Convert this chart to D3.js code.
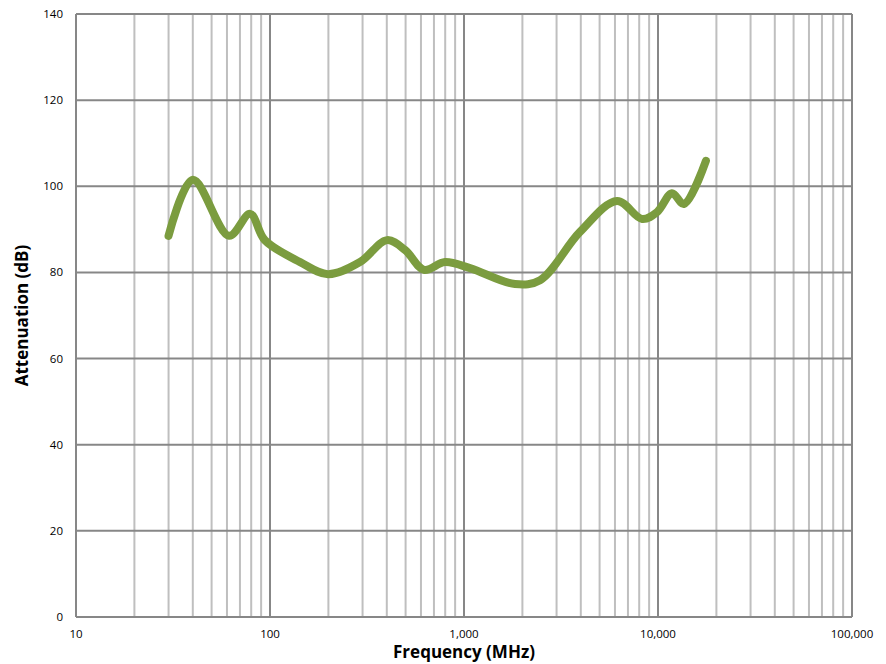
<!DOCTYPE html>
<html>
<head>
<meta charset="utf-8">
<script src="https://cdn.jsdelivr.net/npm/d3@7"></script>
<style>
  body { margin: 0; background: #fff; }
  text { font-family: "Open Sans", "Noto Sans", sans-serif; fill: #000; }
</style>
</head>
<body>
<svg width="886" height="664"></svg>
<script>
// data
const freqs = [30, 40, 61.5, 79, 94, 143, 199, 291, 401, 497, 622, 798, 1074, 1832, 2467, 3960, 6150, 8280, 9890, 11800, 13600, 17660]
const atten = [88.5, 101.5, 88.5, 93.6, 87.5, 82.4, 79.6, 82.4, 87.5, 85.2, 80.6, 82.4, 81, 77.3, 78.2, 89.4, 96.6, 92.4, 94, 98.4, 95.9, 105.9]
const yTicks = [0, 20, 40, 60, 80, 100, 120, 140]
const xDecades = [10, 100, 1000, 10000, 100000]

const margin = {top: 14, right: 34, bottom: 47, left: 76}
const width = 886 - margin.left - margin.right
const height = 664 - margin.top - margin.bottom

const x = d3.scaleLog().domain([10, 100000]).range([0, width])
const y = d3.scaleLinear().domain([0, 140]).range([height, 0])

const svg = d3.select("svg")
const g = svg.append("g").attr("transform", `translate(${margin.left},${margin.top})`)

// minor vertical grid
const minor = []
xDecades.slice(0, -1).forEach(d => { for (let k = 2; k <= 9; k++) minor.push(d * k) })
g.selectAll(".minor")
    .data(minor)
    .enter().append("line")
    .attr("x1", d => x(d)).attr("x2", d => x(d))
    .attr("y1", 0).attr("y2", height)
    .attr("stroke", "#bfbfbf")
    .attr("stroke-width", 2)

// major vertical grid
g.selectAll(".major")
    .data(xDecades)
    .enter().append("line")
    .attr("x1", d => x(d)).attr("x2", d => x(d))
    .attr("y1", 0).attr("y2", height)
    .attr("stroke", "#878787")
    .attr("stroke-width", 2)

// horizontal grid
g.selectAll(".hgrid")
    .data(yTicks)
    .enter().append("line")
    .attr("x1", 0).attr("x2", width)
    .attr("y1", d => y(d)).attr("y2", d => y(d))
    .attr("stroke", "#878787")
    .attr("stroke-width", 2)

// y tick labels
g.selectAll(".ylab")
    .data(yTicks)
    .enter().append("text")
    .attr("x", -13)
    .attr("y", d => y(d))
    .attr("dy", "0.35em")
    .attr("text-anchor", "end")
    .style("font-size", "11.5px")
    .text(d => d)

// x tick labels
g.selectAll(".xlab")
    .data(xDecades)
    .enter().append("text")
    .attr("x", d => x(d))
    .attr("y", height + 21)
    .attr("text-anchor", "middle")
    .style("font-size", "11.5px")
    .text(d => d3.format(",")(d))

// the curve
const line = d3.line()
    .x((d, i) => x(freqs[i]))
    .y(d => y(d))
    .curve(d3.curveCatmullRom.alpha(0.5))

g.append("path")
    .datum(atten)
    .attr("d", line)
    .attr("fill", "none")
    .attr("stroke", "#7b9c3f")
    .attr("stroke-width", 8)
    .attr("stroke-linecap", "round")
    .attr("stroke-linejoin", "round")

// axis titles
svg.append("text")
    .attr("x", margin.left + width / 2)
    .attr("y", 658)
    .attr("text-anchor", "middle")
    .style("font-size", "17px")
    .style("font-weight", "bold")
    .text("Frequency (MHz)")

svg.append("text")
    .attr("transform", `translate(28,${margin.top + height / 2}) rotate(-90)`)
    .attr("text-anchor", "middle")
    .style("font-size", "17px")
    .style("font-weight", "bold")
    .text("Attenuation (dB)")
</script>
</body>
</html>
